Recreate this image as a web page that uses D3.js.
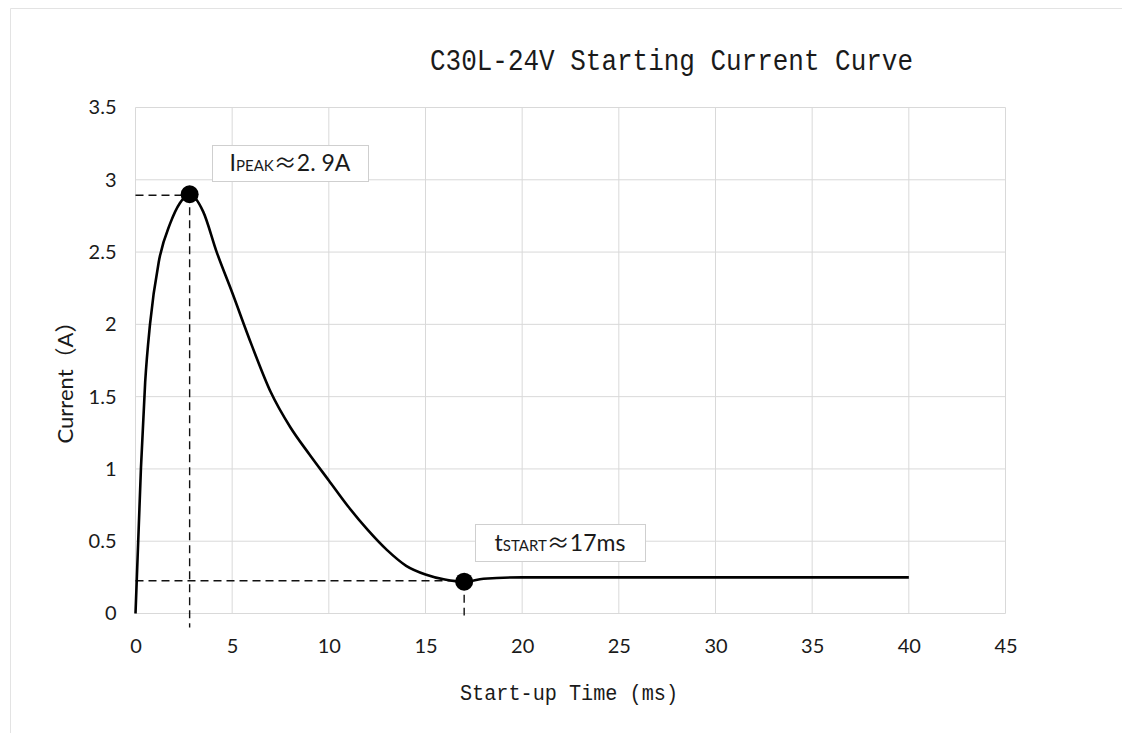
<!DOCTYPE html>
<html>
<head>
<meta charset="utf-8">
<script src="https://cdn.jsdelivr.net/npm/d3@7"></script>
<style>
html,body{margin:0;padding:0;background:#fff;}
svg{display:block;}
</style>
</head>
<body>
<svg id="chart" width="1122" height="733"></svg>
<script>
// ---- data ----
const timeMs = [0, 0.28, 0.5, 0.75, 1.2, 1.8, 2.3, 2.8, 3.5, 4.2, 5.0, 6.0, 7.0, 8.0, 9.0, 10.0, 11.0, 12.0, 13.0, 14.0, 15.0, 16.0, 17.0, 18.0, 20.0, 30.0, 40.0];
const currentA = [0, 1.0, 1.6, 2.0, 2.43, 2.7, 2.84, 2.9, 2.78, 2.5, 2.22, 1.86, 1.53, 1.29, 1.1, 0.92, 0.74, 0.58, 0.44, 0.33, 0.27, 0.235, 0.22, 0.24, 0.25, 0.25, 0.25];
const xTicks = [0, 5, 10, 15, 20, 25, 30, 35, 40, 45];
const yTicks = [0, 0.5, 1, 1.5, 2, 2.5, 3, 3.5];
const peakPoint = {t: 2.8, i: 2.9};
const startPoint = {t: 17, i: 0.22};
const titleText = "C30L-24V Starting Current Curve";
const xTitle = "Start-up Time (ms)";
const yTitle = "Current（A）";

const svg = d3.select("#chart");
const x = d3.scaleLinear().domain([0, 45]).range([135.5, 1005.5]);
const y = d3.scaleLinear().domain([0, 3.5]).range([613.5, 107.5]);

// outer sheet frame
svg.append("line").attr("x1", 10.5).attr("x2", 1122).attr("y1", 8.5).attr("y2", 8.5).attr("stroke", "#e3e3e3");
svg.append("line").attr("x1", 10.5).attr("x2", 10.5).attr("y1", 8.5).attr("y2", 733).attr("stroke", "#e3e3e3");

// gridlines
svg.append("g").selectAll("line").data(yTicks).join("line")
  .attr("x1", x(0)).attr("x2", x(45)).attr("y1", d => y(d)).attr("y2", d => y(d))
  .attr("stroke", "#d9d9d9").attr("stroke-width", 1);
svg.append("g").selectAll("line").data(xTicks).join("line")
  .attr("x1", d => x(d)).attr("x2", d => x(d)).attr("y1", y(0)).attr("y2", y(3.5))
  .attr("stroke", "#d9d9d9").attr("stroke-width", 1);

// axes labels via d3 axes
const xAxis = svg.append("g").attr("transform", `translate(0,${y(0)})`)
  .call(d3.axisBottom(x).tickValues(xTicks).tickSize(0).tickPadding(25).tickFormat(d3.format("d")));
const yAxis = svg.append("g").attr("transform", `translate(${x(0)},0)`)
  .call(d3.axisLeft(y).tickValues(yTicks).tickSize(0).tickPadding(19).tickFormat(d => String(d)));
[xAxis, yAxis].forEach(g => {
  g.select(".domain").remove();
  g.selectAll("text").attr("font-family", "Lato, 'Open Sans', sans-serif").attr("font-size", 20).attr("fill", "#1a1a1a");
});

// dashed guide lines
const dash = svg.append("g").attr("stroke", "#111").attr("stroke-width", 1.4).attr("stroke-dasharray", "8,5").attr("fill", "none");
dash.append("line").attr("x1", x(0)).attr("x2", x(peakPoint.t)).attr("y1", y(peakPoint.i) + 1).attr("y2", y(peakPoint.i) + 1);
dash.append("line").attr("x1", x(peakPoint.t)).attr("x2", x(peakPoint.t)).attr("y1", y(peakPoint.i)).attr("y2", y(0) + 14);
dash.append("line").attr("x1", x(0)).attr("x2", x(startPoint.t)).attr("y1", y(startPoint.i) - 1).attr("y2", y(startPoint.i) - 1);
dash.append("line").attr("x1", x(startPoint.t)).attr("x2", x(startPoint.t)).attr("y1", y(startPoint.i)).attr("y2", y(0) + 2);

// curve
const pts = timeMs.map((t, k) => [t, currentA[k]]);
svg.append("path").datum(pts)
  .attr("fill", "none").attr("stroke", "#000").attr("stroke-width", 2.6)
  .attr("d", d3.line().x(d => x(d[0])).y(d => y(d[1])).curve(d3.curveMonotoneX));

// markers
svg.append("g").selectAll("circle").data([peakPoint, startPoint]).join("circle")
  .attr("cx", d => x(d.t)).attr("cy", d => y(d.i)).attr("r", 9).attr("fill", "#000");

// annotation boxes
function annot(bx, by, bw, bh, big, small, rest) {
  svg.append("rect").attr("x", bx + 0.5).attr("y", by + 0.5).attr("width", bw).attr("height", bh)
    .attr("fill", "#fff").attr("stroke", "#cfcfcf").attr("stroke-width", 1);
  const t = svg.append("text").attr("x", bx + bw / 2).attr("y", by + bh / 2 + 8)
    .attr("text-anchor", "middle").attr("font-family", "Lato, 'Open Sans', sans-serif").attr("fill", "#1a1a1a");
  t.append("tspan").attr("font-size", 23).text(big);
  t.append("tspan").attr("font-size", 15).text(small);
  t.append("tspan").attr("font-size", 23).attr("font-family", "'Noto Sans CJK SC', sans-serif").text("≈");
  t.append("tspan").attr("font-size", 23).text(rest);
}
annot(212, 145, 156, 36, "I", "PEAK", "2. 9A");
annot(475, 524, 170, 37, "t", "START", "17ms");

// titles
svg.append("text").attr("x", 430).attr("y", 70)
  .attr("textLength", 483).attr("lengthAdjust", "spacingAndGlyphs")
  .attr("font-family", "'Liberation Mono', monospace").attr("font-size", 30).attr("fill", "#1a1a1a")
  .text(titleText);
svg.append("text").attr("x", 460).attr("y", 700)
  .attr("textLength", 218).attr("lengthAdjust", "spacingAndGlyphs")
  .attr("font-family", "'Liberation Mono', monospace").attr("font-size", 22).attr("fill", "#1a1a1a")
  .text(xTitle);
svg.append("text").attr("transform", "translate(73,377) rotate(-90)").attr("text-anchor", "middle")
  .attr("font-family", "Lato, 'Noto Sans CJK SC', sans-serif").attr("font-size", 22).attr("fill", "#1a1a1a")
  .text(yTitle);
</script>
</body>
</html>
